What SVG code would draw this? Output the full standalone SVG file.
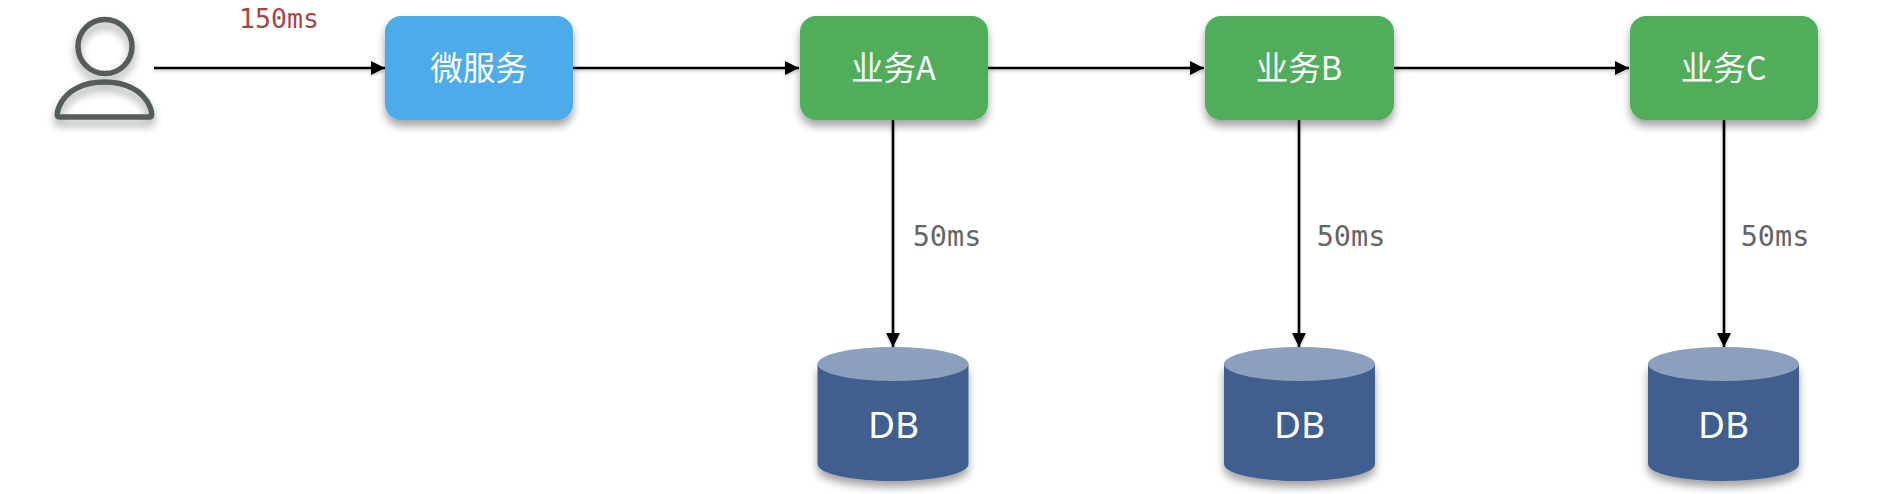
<svg xmlns="http://www.w3.org/2000/svg" width="1880" height="494" viewBox="0 0 1880 494">
<defs>
<style>
.box{stroke:none;filter:url(#sh)}
.blue{fill:#4dabeb}
.green{fill:#4fad5b}
.lbl{font-family:"Noto Sans CJK SC","Noto Sans","DejaVu Sans",sans-serif;font-size:32.500px;fill:#fff;text-anchor:middle}
.db{font-family:"Noto Sans","DejaVu Sans",sans-serif;font-size:37px;fill:#fff;text-anchor:middle}
.ms{font-family:"DejaVu Sans Mono",monospace;fill:#666;font-size:28.500px;text-anchor:middle}
.red{fill:#a94442;font-size:26.500px}
.cn{fill:none;stroke:#000;stroke-width:2.600;marker-end:url(#ah);filter:url(#ls)}
.cyl{fill:#3f5e8e}
.cap{fill:#8aa0bd}
</style>
<filter id="sh" x="-10%" y="-10%" width="120%" height="130%"><feDropShadow dx="0" dy="6" stdDeviation="4" flood-color="#000" flood-opacity=".36"/></filter>
<filter id="ls" x="-5%" y="-5%" width="110%" height="110%" filterUnits="userSpaceOnUse"><feDropShadow dx="0" dy="2" stdDeviation="1.500" flood-color="#000" flood-opacity=".2"/></filter>
<marker id="ah" markerUnits="userSpaceOnUse" markerWidth="15" markerHeight="15" refX="14" refY="7" orient="auto"><path d="M0,0L14,7L0,14z" fill="#000"/></marker>
<g id="cyl-shape">
<path class="cyl" d="M-75.500,-50V50C-75.500,60-41,67 0,67S75.500,60 75.500,50V-50z" filter="url(#sh)"/>
<ellipse class="cap" cx="0" cy="-50" rx="75.500" ry="17"/>
</g>
</defs>
<rect width="1880" height="494" fill="#fff"/>
<g id="connectors">
<path class="cn" d="M154,68H385"/>
<path class="cn" d="M573,68H799"/>
<path class="cn" d="M988,68H1204"/>
<path class="cn" d="M1394,68H1629"/>
<path class="cn" d="M893,120V347"/>
<path class="cn" d="M1299,120V347"/>
<path class="cn" d="M1724,120V347"/>
</g>
<g id="user" fill="none" stroke="#545d5c" stroke-width="5.500" filter="url(#sh)">
<ellipse cx="105" cy="46.500" rx="27" ry="27"/>
<path d="M60,117C56,117 57,112 59,107C66,90 84,82 104.500,82S143,90 150,107C152,112 153,117 149,117z" stroke-linejoin="round"/>
</g>
<text id="label-150" class="ms red" x="279" y="28">150ms</text>
<g id="svc"><rect class="box blue" x="385" y="16" width="188" height="104" rx="16"/><text class="lbl" x="479" y="80">微服务</text></g>
<g id="a"><rect class="box green" x="800" y="16" width="188" height="104" rx="16"/><text class="lbl" x="893.500" y="80">业务A</text></g>
<g id="b"><rect class="box green" x="1205" y="16" width="189" height="104" rx="16"/><text class="lbl" x="1299" y="80">业务B</text></g>
<g id="c"><rect class="box green" x="1630" y="16" width="188" height="104" rx="16"/><text class="lbl" x="1723.500" y="80">业务C</text></g>
<text id="label-a" class="ms" x="947" y="246">50ms</text>
<text id="label-b" class="ms" x="1351" y="246">50ms</text>
<text id="label-c" class="ms" x="1775" y="246">50ms</text>
<g id="db-a"><use href="#cyl-shape" x="893" y="414"/><text class="db" x="893.500" y="438">DB</text></g>
<g id="db-b"><use href="#cyl-shape" x="1299.500" y="414"/><text class="db" x="1299.500" y="438">DB</text></g>
<g id="db-c"><use href="#cyl-shape" x="1723.500" y="414"/><text class="db" x="1723.500" y="438">DB</text></g>
</svg>
